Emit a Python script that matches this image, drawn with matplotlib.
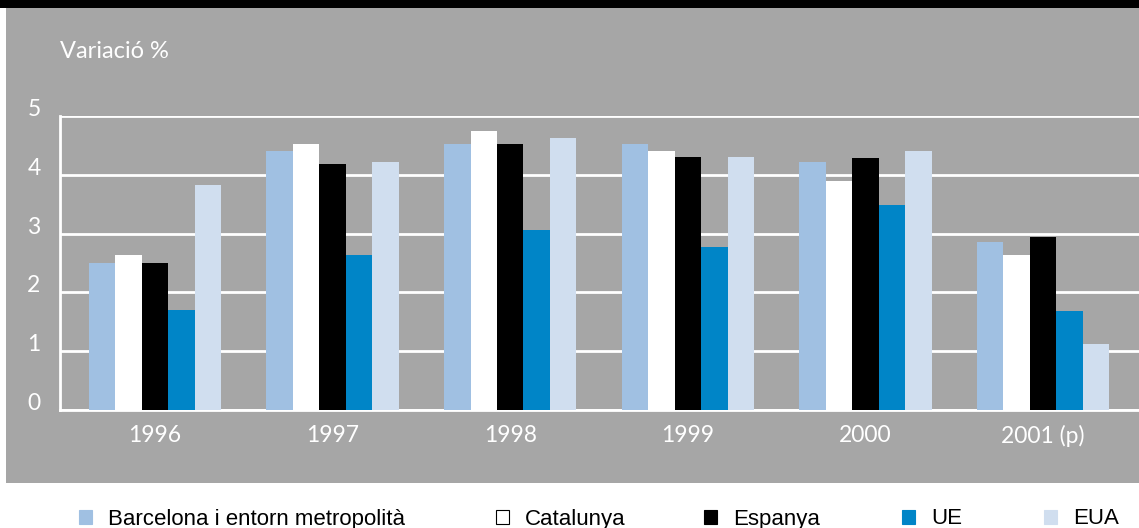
import matplotlib
matplotlib.use("Agg")
import matplotlib.pyplot as plt
import numpy as np
from matplotlib.patches import Rectangle, Patch

years = ["1996", "1997", "1998", "1999", "2000", "2001 (p)"]
series_names = ["Barcelona i entorn metropolità", "Catalunya", "Espanya", "UE", "EUA"]
barcelona = [2.50, 4.40, 4.52, 4.52, 4.21, 2.85]
catalunya = [2.63, 4.53, 4.75, 4.40, 3.90, 2.63]
espanya = [2.50, 4.18, 4.53, 4.31, 4.29, 2.95]
ue = [1.70, 2.63, 3.06, 2.77, 3.48, 1.68]
eua = [3.82, 4.21, 4.62, 4.31, 4.40, 1.12]
yticks = [0, 1, 2, 3, 4, 5]

colors = ["#A0C0E2", "#FFFFFF", "#000000", "#0085C7", "#D0DEEF"]
gray = "#A6A6A6"

W, H = 1139, 528
fig = plt.figure(figsize=(W / 100, H / 100), dpi=100)
fig.patch.set_facecolor("white")

# background panels
fig.add_artist(Rectangle((6 / W, (H - 483) / H), 1 - 6 / W, (483 - 8) / H,
                         transform=fig.transFigure, facecolor=gray, edgecolor="none", zorder=0))
fig.add_artist(Rectangle((0, (H - 8) / H), 1, 8 / H,
                         transform=fig.transFigure, facecolor="black", edgecolor="none", zorder=0))

ax = fig.add_axes([60 / W, (H - 410) / H, 1 - 60 / W, (410 - 116) / H])
ax.set_facecolor("none")

data = [barcelona, catalunya, espanya, ue, eua]
x = np.arange(len(years))
bw = 0.149
for i, (vals, c) in enumerate(zip(data, colors)):
    ax.bar(x + (i - 2) * bw, vals, width=bw, color=c, edgecolor="none", zorder=3)

ax.set_xlim(-0.535, 5.54)
ax.set_ylim(0, 5)
ax.set_yticks(yticks)
ax.set_yticklabels([str(v) for v in yticks])
ax.set_xticks(x)
ax.set_xticklabels(years)

ax.grid(axis="y", color="white", linewidth=2.0, zorder=1)
ax.grid(axis="x", visible=False)
for s in ["top", "right"]:
    ax.spines[s].set_visible(False)
for s in ["left", "bottom"]:
    ax.spines[s].set_color("white")
    ax.spines[s].set_linewidth(2.0)

font = "Lato"
fs = 16.5
ax.tick_params(axis="both", length=0, colors="white", labelsize=fs)
ax.tick_params(axis="y", pad=14)
ax.tick_params(axis="x", pad=11)
for lab in ax.get_yticklabels():
    lab.set_fontfamily(font)
    lab.set_verticalalignment("baseline")
for lab in ax.get_xticklabels():
    lab.set_fontfamily(font)

fig.text(60 / W, (H - 52) / H, "Variació %", color="white", fontsize=17,
         family=font, ha="left", va="center")

# legend: one entry per legend box, placed at the reference positions
legend_x_px = [79, 496, 704, 902, 1044]
for name, c, lx in zip(series_names, colors, legend_x_px):
    ec = "black" if c == "#FFFFFF" else c
    h = Patch(facecolor=c, edgecolor=ec, linewidth=0.8, label=name)
    leg = fig.legend(handles=[h], loc="center left", bbox_to_anchor=(lx / W, (H - 519) / H),
                     frameon=False, handlelength=0.6, handleheight=0.6,
                     handletextpad=0.7, borderaxespad=0, borderpad=0,
                     prop={"family": "Liberation Sans", "size": 16})

fig.savefig("out.png", dpi=100)
